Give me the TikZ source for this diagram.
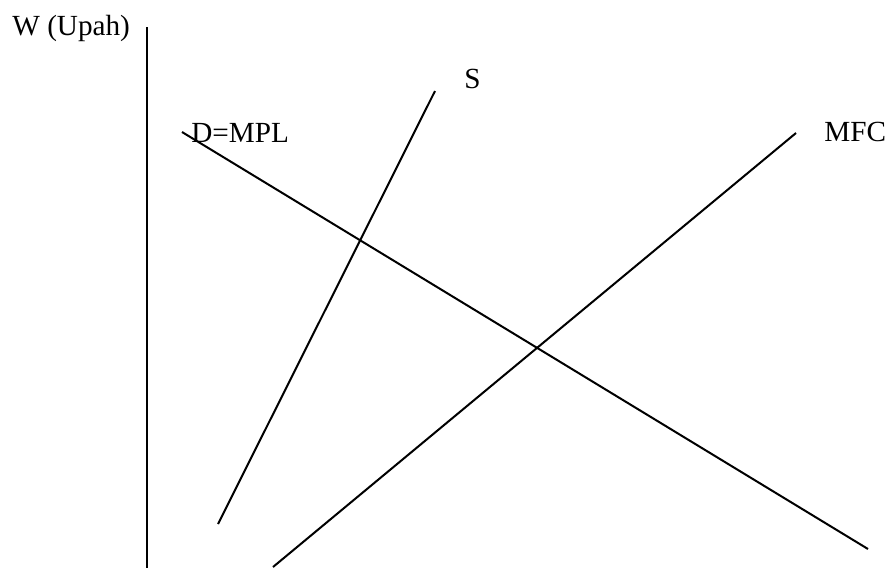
\documentclass[tikz,border=0pt]{standalone}
\usepackage{fontspec}
\setmainfont{Liberation Serif}
\usetikzlibrary{positioning}

\begin{document}
\begin{tikzpicture}[x=0.5pt,y=-0.5pt, every node/.style={font=\fontsize{14.6}{17}\selectfont,inner sep=0pt,anchor=base west}, curve/.style={line width=1pt}]
    \useasboundingbox (0,0) rectangle (893,574);
    % axis
    \coordinate (axtop) at (147,27);
    \coordinate (axbot) at (147,568);
    \node (wlab) at (12,35) {W (Upah)};
    % curves
    \coordinate (s0) at (218,524);
    \coordinate (s1) at (435,91);
    \coordinate (d0) at (182,132);
    \coordinate (d1) at (868,549);
    \coordinate (m0) at (273,567);
    \coordinate (m1) at (796,133);
    \node (slab) at (464,88) {S};
    \node (dlab) at (191,142) {D=MPL};
    \node (mlab) at (824,141) {MFC};
    \foreach \x/\y in {axtop/axbot,s0/s1,d0/d1,m0/m1}{\draw[curve] (\x) -- (\y);}
  \end{tikzpicture}
\end{document}
